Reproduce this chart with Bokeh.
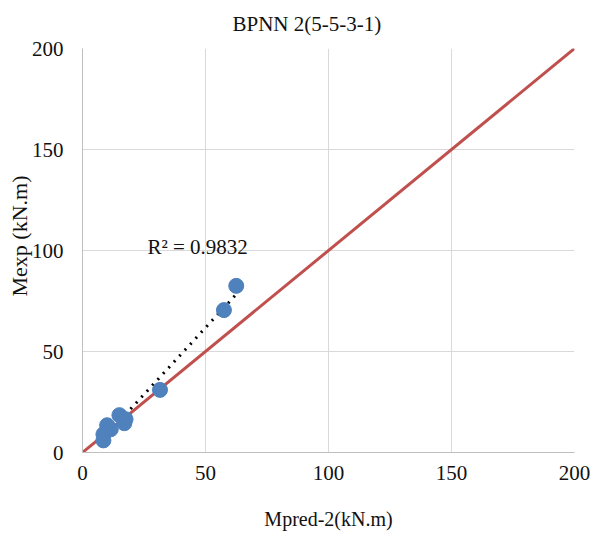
import numpy as np
from bokeh.plotting import figure
from bokeh.models import Range1d, FixedTicker, Label, Title
from bokeh.embed import file_html
from bokeh.resources import INLINE

# Data
m_pred = [62.5, 57.5, 31.5, 15.0, 17.5, 17.0, 10.0, 11.5, 8.5, 8.5]
m_exp = [82.5, 70.5, 31.0, 18.5, 16.5, 14.5, 13.5, 11.5, 9.0, 6.0]
ideal = [0, 200]
ticks = [0, 50, 100, 150, 200]
r2_text = "R² = 0.9832"
title_text = "BPNN 2(5-5-3-1)"
x_label = "Mpred-2(kN.m)"
y_label = "Mexp (kN.m)"

FONT = "Liberation Serif"
TICKFONT = "Times New Roman"
TXT = "#111111"

p = figure(width=603, height=538, output_backend="svg", toolbar_location=None,
           x_range=Range1d(0, 200), y_range=Range1d(0, 200),
           min_border_left=82, min_border_right=29, min_border_top=48, min_border_bottom=86)

p.add_layout(Title(text=title_text, align="left", offset=150, vertical_align="top",
                   text_font=FONT, text_font_size="21px", text_font_style="normal",
                   text_color=TXT, standoff=21), "above")
p.add_layout(Title(text=y_label, align="left", offset=156, text_font=FONT,
                   text_font_size="22px", text_font_style="normal", text_color=TXT,
                   standoff=-6), "left")

p.outline_line_color = None
p.background_fill_color = "white"
p.border_fill_color = "white"

for ax in (p.xaxis[0], p.yaxis[0]):
    ax.ticker = FixedTicker(ticks=ticks)
    ax.major_label_text_font = TICKFONT
    ax.major_label_text_font_size = "21px"
    ax.major_label_text_font_style = "normal"
    ax.major_label_text_color = TXT
    ax.major_tick_line_color = None
    ax.minor_tick_line_color = None
    ax.major_tick_out = 0
    ax.major_tick_in = 0
    ax.minor_tick_out = 0
    ax.axis_line_color = "#bfbfbf"
    ax.axis_line_width = 1

p.xaxis[0].axis_label = x_label
p.xaxis[0].axis_label_text_font = TICKFONT
p.xaxis[0].axis_label_text_font_size = "20px"
p.xaxis[0].axis_label_text_font_style = "normal"
p.xaxis[0].axis_label_text_color = TXT
p.xaxis[0].major_label_standoff = 13
p.xaxis[0].axis_label_standoff = 25
p.yaxis[0].major_label_standoff = 19

p.xgrid.ticker = FixedTicker(ticks=ticks)
p.ygrid.ticker = FixedTicker(ticks=ticks)
p.grid.grid_line_color = "#d9d9d9"
p.grid.grid_line_width = 1

# 1:1 line
p.line(ideal, ideal, line_color="#c0504d", line_width=3)

# linear trendline from data
xa = np.array(m_pred)
ya = np.array(m_exp)
k, b = np.polyfit(xa, ya, 1)
tx = np.array([xa.min(), xa.max()])
p.line(tx, k * tx + b, line_color="black", line_width=3, line_dash="2 6")

p.scatter(m_pred, m_exp, size=15, fill_color="#4f81bd", line_color="#4f81bd")

p.add_layout(Label(x=26.4, y=101.5, text=r2_text, text_font=FONT, text_font_size="21px",
                   text_color=TXT, text_baseline="middle"))

open("out.html", "w").write(file_html(p, INLINE))
